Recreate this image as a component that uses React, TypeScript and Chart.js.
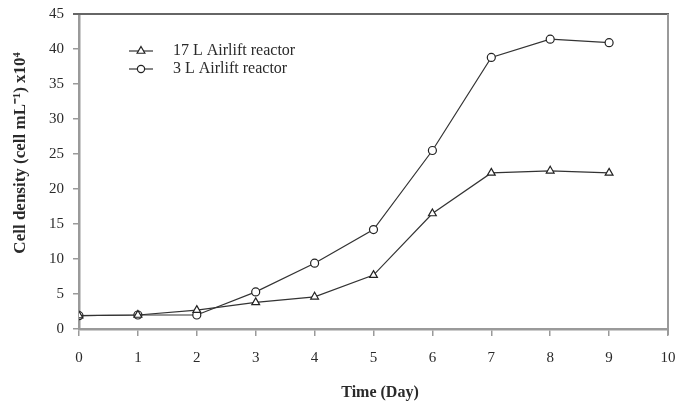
import React, { useEffect, useRef } from "react";
import { Chart, registerables } from "chart.js";

Chart.register(...registerables);

const days = [0, 1, 2, 3, 4, 5, 6, 7, 8, 9];
const reactor17L = [1.9, 2.0, 2.7, 3.8, 4.6, 7.7, 16.5, 22.3, 22.6, 22.3];
const reactor3L = [1.9, 2.0, 2.0, 5.3, 9.4, 14.2, 25.5, 38.8, 41.4, 40.9];
const seriesLabels = ["17 L Airlift reactor", "3 L Airlift reactor"];
const xTitle = "Time (Day)";
const yTitle = "Cell density (cell mL\u207B\u00B9) x10\u2074";

const FONT = "'Liberation Serif', 'Times New Roman', serif";
const TEXT = "#2a2a2a";
const AXIS = "#9a9a9a";

function marker(ctx: CanvasRenderingContext2D, style: string, x: number, y: number) {
  ctx.save();
  ctx.fillStyle = "#fff";
  ctx.strokeStyle = "#222";
  ctx.lineWidth = 1.2;
  ctx.beginPath();
  if (style === "triangle") {
    const r = 4.5;
    ctx.moveTo(x, y - r);
    ctx.lineTo(x + r * 0.866, y + r * 0.5);
    ctx.lineTo(x - r * 0.866, y + r * 0.5);
    ctx.closePath();
  } else {
    ctx.arc(x, y, 3.6, 0, Math.PI * 2);
  }
  ctx.fill();
  ctx.stroke();
  ctx.restore();
}

const framePlugin = {
  id: "frame",
  afterDraw(chart: any) {
    const { ctx, chartArea } = chart;
    const { left, right, top, bottom } = chartArea;
    ctx.save();
    ctx.strokeStyle = "#666";
    ctx.lineWidth = 2;
    ctx.beginPath();
    ctx.moveTo(left - 6, top);
    ctx.lineTo(right + 1, top);
    ctx.stroke();
    ctx.strokeStyle = AXIS;
    ctx.lineWidth = 2;
    ctx.beginPath();
    ctx.moveTo(right, top);
    ctx.lineTo(right, bottom + 6);
    ctx.stroke();
    const items = [
      { label: seriesLabels[0], style: "triangle", y: 51 },
      { label: seriesLabels[1], style: "circle", y: 69 },
    ];
    items.forEach((it) => {
      const x0 = left + 50;
      const x1 = left + 74;
      const xm = (x0 + x1) / 2;
      ctx.strokeStyle = "#333";
      ctx.lineWidth = 1.2;
      ctx.beginPath();
      ctx.moveTo(x0, it.y);
      ctx.lineTo(x1, it.y);
      ctx.stroke();
      marker(ctx, it.style, xm, it.y);
      ctx.fillStyle = TEXT;
      ctx.font = `16px ${FONT}`;
      ctx.textBaseline = "middle";
      ctx.textAlign = "left";
      ctx.fillText(it.label, left + 94, it.y);
    });
    ctx.fillStyle = TEXT;
    ctx.font = `bold 16px ${FONT}`;
    ctx.textAlign = "center";
    ctx.textBaseline = "middle";
    ctx.fillText(xTitle, 380, 393);
    ctx.translate(21, 153);
    ctx.rotate(-Math.PI / 2);
    ctx.font = `bold 17px ${FONT}`;
    ctx.fillText(yTitle, 0, 0);
    ctx.restore();
  },
};

export default function App() {
  const ref = useRef<HTMLCanvasElement>(null);
  useEffect(() => {
    document.body.style.margin = "0";
    const ctx = ref.current!;
    const mk = (vals: number[]) => days.map((d, i) => ({ x: d, y: vals[i] }));
    const chart = new Chart(ctx, {
      type: "line",
      data: {
        datasets: [
          {
            label: seriesLabels[0],
            data: mk(reactor17L),
            borderColor: "#333",
            borderWidth: 1.2,
            pointStyle: "triangle",
            pointRadius: 4.5,
            pointBackgroundColor: "#fff",
            pointBorderColor: "#222",
            pointBorderWidth: 1.2,
          },
          {
            label: seriesLabels[1],
            data: mk(reactor3L),
            borderColor: "#333",
            borderWidth: 1.2,
            pointStyle: "circle",
            pointRadius: 4,
            pointBackgroundColor: "#fff",
            pointBorderColor: "#222",
            pointBorderWidth: 1.2,
          },
        ],
      },
      options: {
        animation: false,
        responsive: false,
        maintainAspectRatio: false,
        layout: { padding: { top: 14, right: 10, left: 0, bottom: 0 } },
        plugins: {
          legend: { display: false },
          tooltip: { enabled: false },
        },
        scales: {
          x: {
            type: "linear",
            min: 0,
            max: 10,
            ticks: {
              stepSize: 1,
              color: TEXT,
              font: { family: FONT, size: 15 },
              padding: 13,
            },
            grid: {
              drawOnChartArea: false,
              drawTicks: true,
              tickLength: 7,
              color: AXIS,
              lineWidth: 1.5,
            },
            border: { color: AXIS, width: 2.5 },
            title: { display: false },
            afterFit(scale: any) {
              scale.height = 73;
              scale.paddingLeft = 0;
              scale.paddingRight = 0;
            },
          },
          y: {
            min: 0,
            max: 45,
            ticks: {
              stepSize: 5,
              color: TEXT,
              font: { family: FONT, size: 15 },
              padding: 9,
            },
            grid: {
              drawOnChartArea: false,
              drawTicks: true,
              tickLength: 6,
              color: AXIS,
              lineWidth: 1.5,
            },
            border: { color: AXIS, width: 2.5 },
            title: { display: false },
            afterFit(scale: any) {
              scale.width = 79;
              scale.paddingTop = 0;
              scale.paddingBottom = 0;
            },
          },
        },
      },
      plugins: [framePlugin],
    });
    return () => chart.destroy();
  }, []);
  return (
    <div style={{ position: "absolute", left: 0, top: 0, width: 678, height: 402, background: "#fff" }}>
      <canvas ref={ref} width={678} height={402} />
    </div>
  );
}
